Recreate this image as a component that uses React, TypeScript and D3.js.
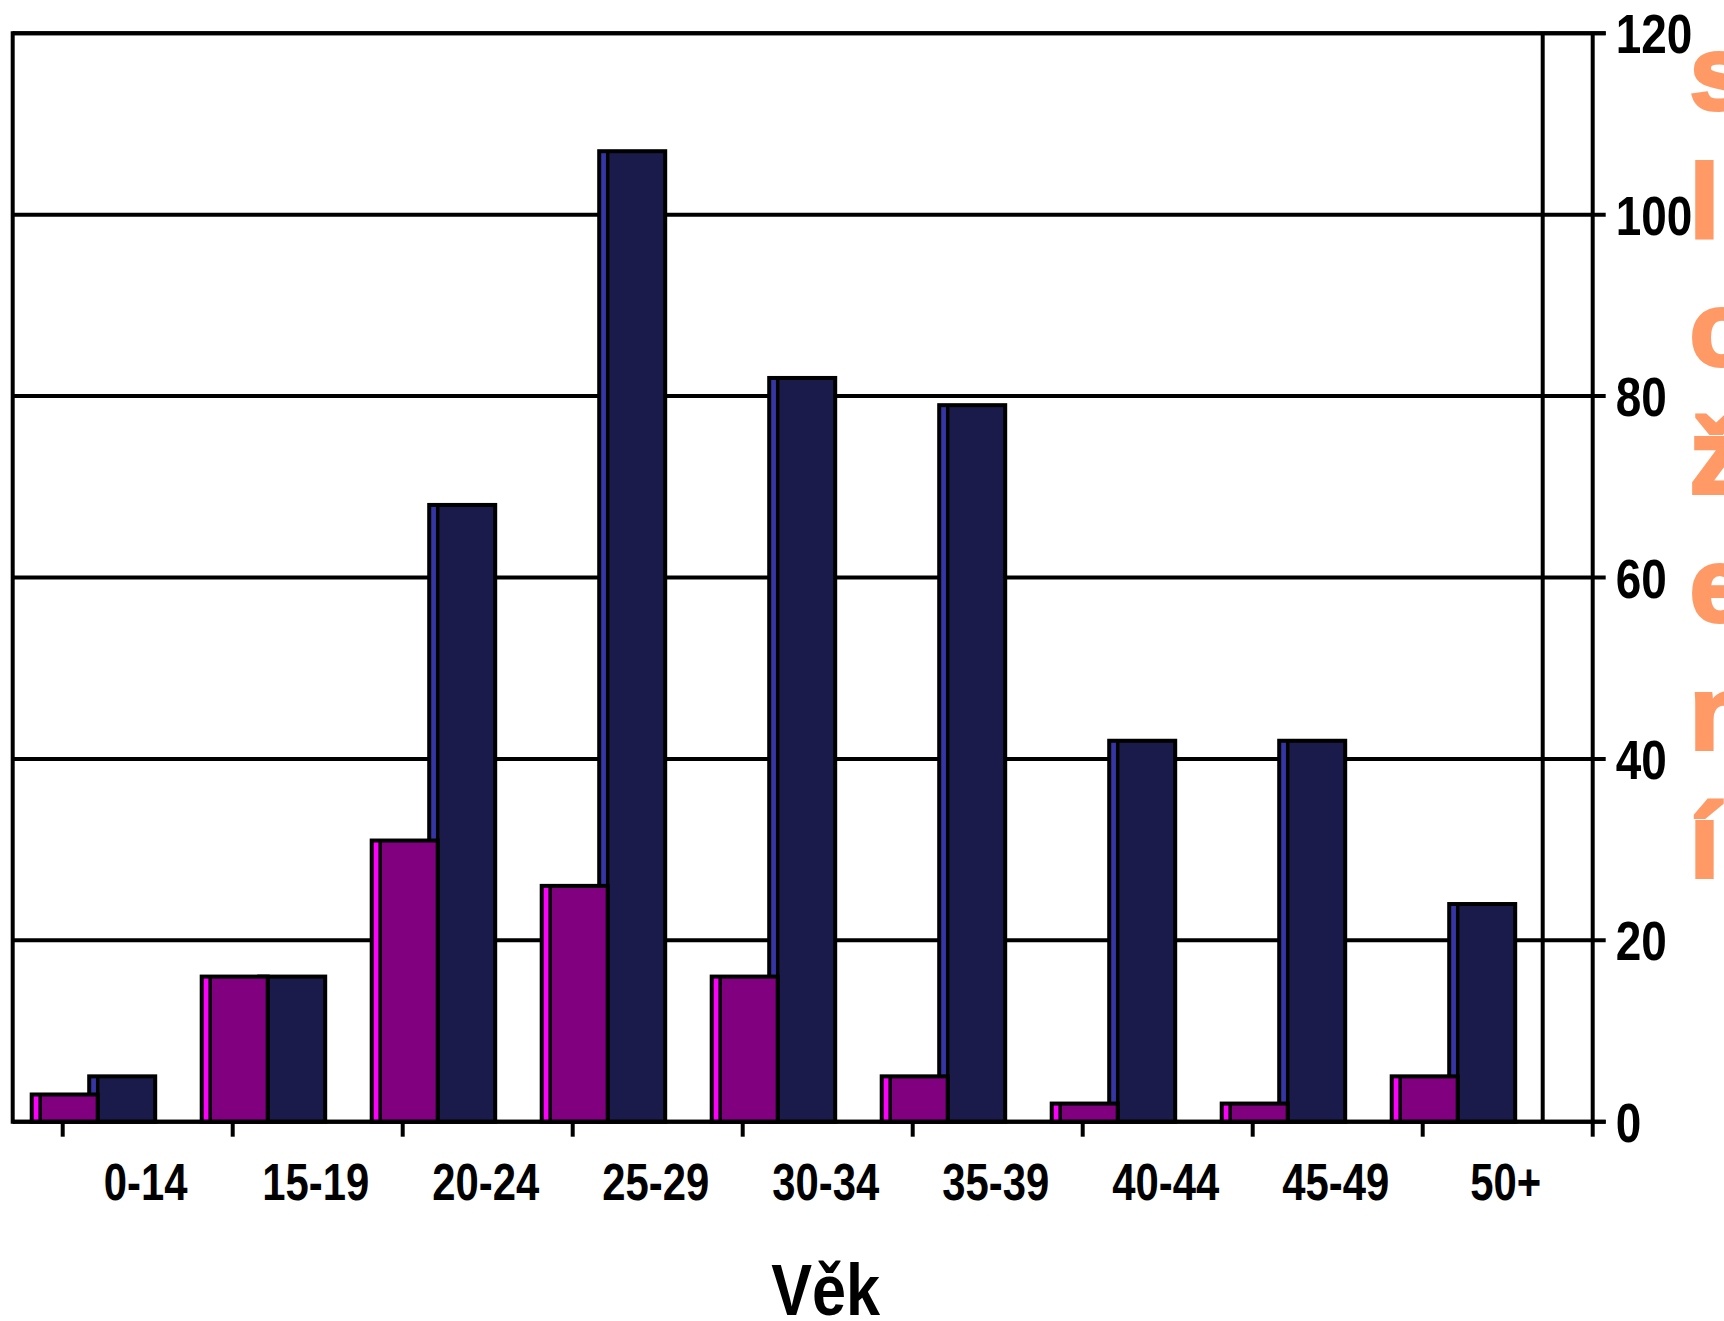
import React from 'react';
import * as d3 from 'd3';

// Age groups and counts for the two series
const categories = ['0-14', '15-19', '20-24', '25-29', '30-34', '35-39', '40-44', '45-49', '50+'];
const seriesPurple = [3, 16, 31, 26, 16, 5, 2, 2, 5];
const seriesNavy = [5, 16, 68, 107, 82, 79, 42, 42, 24];
const yTicks = [0, 20, 40, 60, 80, 100, 120];
const xTitle = 'Věk';
const sideTitle = 'složení';

const W = 1724;
const H = 1321;
const backLeft = 12.7;
const backRight = 1542.7;
const depth = 50; // horizontal offset between back wall and front axis
const plotTop = 33.3;
const plotBottom = 1121.7;
const sideFace = 8.5;
const lineW = 4;
const font = '"Liberation Sans", Arial, sans-serif';
const narrow = 0.82;

const seriesStyles = [
  { key: 'navy', values: seriesNavy, face: '#1B1B4B', side: '#3535A5' },
  { key: 'purple', values: seriesPurple, face: '#800080', side: '#FF00FF' },
];

export default function App() {
  const y = d3.scaleLinear().domain([0, 120]).range([plotBottom, plotTop]);
  const xBack = d3
    .scaleBand<string>()
    .domain(categories)
    .range([backLeft, backRight])
    .paddingInner(55 / 170)
    .paddingOuter(55 / 340);
  const xFront = d3.scaleBand<string>().domain(categories).range([backLeft + depth, backRight + depth]);
  const xSeries = d3.scaleBand<string>().domain(['purple', 'navy']).range([0, xBack.bandwidth()]);
  const frontAxisX = backRight + depth;
  const tickOut = 13;
  const step = xFront.step();
  const boundaries = [...categories.map((c) => xFront(c) as number), xFront.range()[1]];

  return (
    <svg
      width={W}
      height={H}
      style={{ position: 'absolute', left: 0, top: 0, background: '#fff' }}
      xmlns="http://www.w3.org/2000/svg"
    >
      {/* horizontal gridlines on the back wall, joined to the front axis ticks */}
      <g stroke="#000" strokeWidth={lineW} fill="none">
        {yTicks.map((t) => (
          <g key={t}>
            <line x1={backLeft} x2={backRight} y1={y(t)} y2={y(t)} />
            <line x1={backRight} x2={frontAxisX + tickOut} y1={y(t)} y2={y(t)} />
          </g>
        ))}
      </g>

      {/* bars: front face plus narrow left side face */}
      {seriesStyles.map((s) => (
        <g key={s.key}>
          {categories.map((c, i) => {
            const x0 = (xBack(c) as number) + (xSeries(s.key) as number);
            const w = xSeries.bandwidth();
            const yt = y(s.values[i]);
            const h = y(0) - yt;
            return (
              <g key={c}>
                <rect x={x0 - sideFace} y={yt} width={sideFace} height={h} fill={s.side} />
                <rect x={x0} y={yt} width={w} height={h} fill={s.face} />
                <rect
                  x={x0 - sideFace}
                  y={yt}
                  width={w + sideFace}
                  height={h}
                  fill="none"
                  stroke="#000"
                  strokeWidth={lineW}
                />
                <line x1={x0} x2={x0} y1={yt} y2={y(0)} stroke="#000" strokeWidth={lineW - 0.5} />
              </g>
            );
          })}
        </g>
      ))}

      {/* frame and axes */}
      <g stroke="#000" strokeWidth={lineW} fill="none">
        <line x1={backLeft} x2={backLeft} y1={plotTop - lineW / 2} y2={plotBottom + lineW / 2} />
        <line x1={backRight} x2={backRight} y1={plotTop} y2={plotBottom} />
        <line x1={frontAxisX} x2={frontAxisX} y1={plotTop} y2={plotBottom} />
        <line x1={backLeft} x2={frontAxisX + tickOut} y1={y(0)} y2={y(0)} />
        <line x1={backLeft} x2={frontAxisX + tickOut} y1={y(120)} y2={y(120)} />
        {boundaries.map((bx, i) => (
          <line key={i} x1={bx} x2={bx} y1={plotBottom} y2={plotBottom + 15} />
        ))}
      </g>

      {/* value axis labels */}
      {yTicks.map((t) => (
        <g key={t} transform={`translate(${frontAxisX + 23},${y(t) + 20}) scale(${narrow},1)`}>
          <text fontFamily={font} fontWeight="bold" fontSize={56} fill="#000">
            {t}
          </text>
        </g>
      ))}

      {/* category labels */}
      {categories.map((c) => (
        <g key={c} transform={`translate(${(xFront(c) as number) + step / 2 - 2},1200) scale(${narrow},1)`}>
          <text fontFamily={font} fontWeight="bold" fontSize={51} fill="#000" textAnchor="middle">
            {c}
          </text>
        </g>
      ))}

      {/* axis title */}
      <g transform={`translate(${(backLeft + depth + frontAxisX) / 2 - 2},1315) scale(0.85,1)`}>
        <text fontFamily={font} fontWeight="bold" fontSize={72} fill="#000" textAnchor="middle">
          {xTitle}
        </text>
      </g>

      {/* vertical side caption, one letter per line */}
      <g fontFamily={font} fontWeight="bold" fontSize={104} fill="#FF9966" stroke="#FF9966" strokeWidth={4}>
        {Array.from(sideTitle).map((ch, i) => (
          <text key={i} x={1690} y={108.5 + i * 128.1}>
            {ch}
          </text>
        ))}
      </g>
    </svg>
  );
}
